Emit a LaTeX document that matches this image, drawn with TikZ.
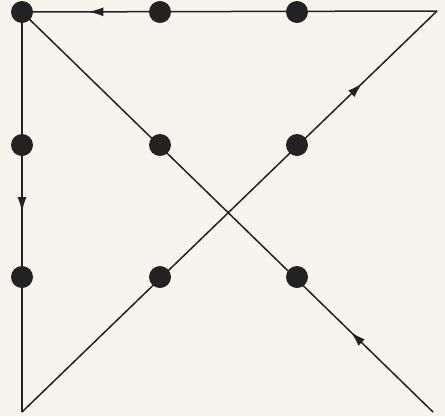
\documentclass[tikz,border=0pt]{standalone}
\usetikzlibrary{arrows.meta,decorations.markings}
\definecolor{bg}{HTML}{F7F4EE}
\definecolor{ink}{HTML}{222222}
\begin{document}
\begin{tikzpicture}[x=1pt,y=-1pt,
  dot/.style={circle,fill=ink,inner sep=0pt,minimum size=22pt},
  seg/.style={draw=ink,line width=1.5pt},
  midarrow/.style={postaction={decorate},decoration={markings,mark=at position #1 with {\arrow{Latex[length=15pt,width=9pt]}}}}]
\fill[bg] (0,0) rectangle (445,416);
\useasboundingbox (0,0) rectangle (445,416);
\coordinate (TL) at (22,12);
\coordinate (TR) at (437,11);
\coordinate (BL) at (22,412);
\coordinate (BR) at (433,412);
\draw[seg,midarrow=0.2] (BR) -- (TL);
\draw[seg,midarrow=0.5] (TL) -- (BL);
\draw[seg,midarrow=0.82] (BL) -- (TR);
\draw[seg,midarrow=0.84] (TR) -- (TL);
\node[dot] (d11) at (22,12) {};
\node[dot] (d12) at (160,12) {};
\node[dot] (d13) at (297,12) {};
\node[dot] (d21) at (22,145) {};
\node[dot] (d22) at (160,145) {};
\node[dot] (d23) at (297,145) {};
\node[dot] (d31) at (22,277) {};
\node[dot] (d32) at (160,277) {};
\node[dot] (d33) at (297,277) {};
\end{tikzpicture}
\end{document}
